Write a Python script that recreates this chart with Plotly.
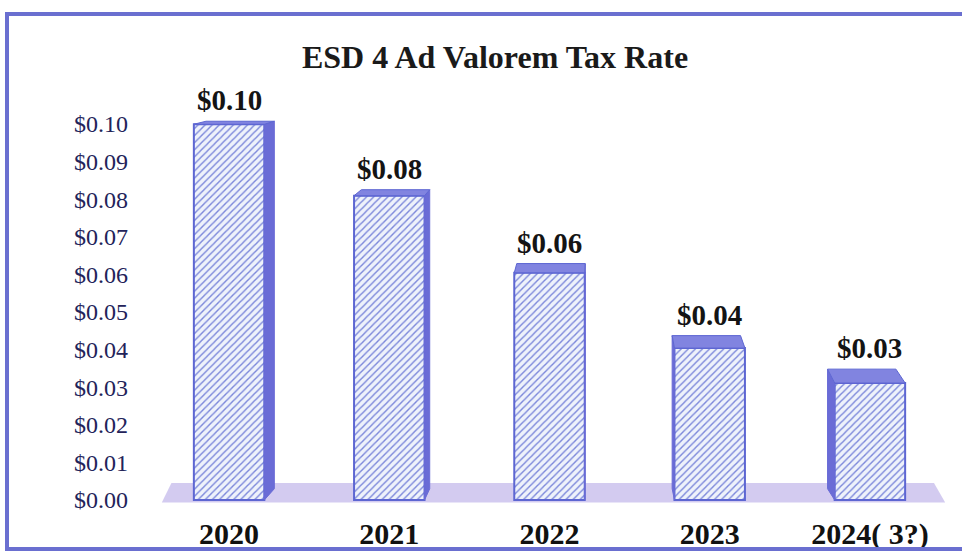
import plotly.graph_objects as go

# ---------------- data ----------------
years = ["2020", "2021", "2022", "2023", "2024( 3?)"]
rates = [0.0999, 0.0809, 0.0604, 0.0404, 0.0311]
y_ticks = [0.00, 0.01, 0.02, 0.03, 0.04, 0.05, 0.06, 0.07, 0.08, 0.09, 0.10]
y_tick_labels = ["$%.2f" % t for t in y_ticks]
title_text = "ESD 4 Ad Valorem Tax Rate"

# ---------------- style ----------------
W, H = 962, 552
ML, MR, MT, MB = 149, 12, 75, 49
Y_MIN, Y_MAX = -0.0008, 0.113
BAR_W = 0.44
VP, K = 2.3, 0.03            # fake perspective: vanishing point & depth factor
BOTTOM_LIFT = 0.0030
FRONT_LINE = "#5d66d2"
SIDE_COL = "#6a6cd6"
CAP_COL = "#8184e0"
SERIF = "Liberation Serif"

def shift(x):
    return (VP - x) * K

def lift(v):
    return 0.0008 + (0.10 - v) * 0.042

fig = go.Figure()

xs = list(range(len(years)))

# floor slab
fig.add_shape(
    type="path",
    path="M -0.42 -0.0007 L 4.47 -0.0007 L 4.40 0.0045 L -0.36 0.0045 Z",
    xref="x", yref="y", fillcolor="rgba(200,190,236,0.8)", line_width=0, layer="below",
)

# front faces
fig.add_trace(go.Bar(
    x=xs, y=rates, width=BAR_W,
    marker=dict(
        color="#eef0fb",
        line=dict(color=FRONT_LINE, width=2),
        pattern=dict(shape="/", fgcolor="#7a86da", bgcolor="#eef2fb",
                     size=5, solidity=0.28, fillmode="replace"),
    ),
    hoverinfo="skip", showlegend=False,
))

# side faces and top caps
for i, v in zip(xs, rates):
    x0, x1 = i - BAR_W / 2, i + BAR_W / 2
    L = lift(v)
    if x1 < VP:
        xe = x1
    elif x0 > VP:
        xe = x0
    else:
        xe = None
    if xe is not None:
        d = shift(xe)
        fig.add_trace(go.Scatter(
            x=[xe, xe, xe + d, xe + d, xe],
            y=[0, v, v + L, BOTTOM_LIFT, 0],
            mode="lines", fill="toself", fillcolor=SIDE_COL,
            line=dict(color=SIDE_COL, width=1),
            hoverinfo="skip", showlegend=False,
        ))
    fig.add_trace(go.Scatter(
        x=[x0, x1, x1 + shift(x1), x0 + shift(x0), x0],
        y=[v, v, v + L, v + L, v],
        mode="lines", fill="toself", fillcolor=CAP_COL,
        line=dict(color=FRONT_LINE, width=1),
        hoverinfo="skip", showlegend=False,
    ))
    fig.add_annotation(
        x=i, y=v + L, xref="x", yref="y", text="$%.2f" % v,
        showarrow=False, yanchor="bottom", yshift=3,
        font=dict(family=SERIF, size=29, color="#141414", weight="bold"),
    )

# frame around the chart (paper coordinates computed from pixels)
pw = W - ML - MR
ph = H - MT - MB
def px_x(p):
    return (p - ML) / pw
def px_y(p):
    return (H - MB - p) / ph

fig.add_shape(
    type="rect", xref="paper", yref="paper",
    x0=px_x(7), x1=px_x(975), y0=px_y(549), y1=px_y(14),
    line=dict(color="#6a6fd0", width=4), fillcolor="rgba(0,0,0,0)", layer="above",
)

fig.update_layout(
    width=W, height=H,
    margin=dict(l=ML, r=MR, t=MT, b=MB, pad=0, autoexpand=False),
    paper_bgcolor="white", plot_bgcolor="white",
    title=dict(
        text=title_text, x=495 / W, xref="container", xanchor="center",
        y=1 - 57 / H, yref="container", yanchor="middle",
        font=dict(family=SERIF, size=32, color="#1a1a1a", weight="bold"),
    ),
    xaxis=dict(
        range=[-0.5, 4.5], tickvals=xs, ticktext=years, automargin=False,
        showgrid=False, zeroline=False, showline=False, ticks="",
        tickfont=dict(family=SERIF, size=30, color="#111111", weight="bold"),
        ticklabelstandoff=10,
    ),
    yaxis=dict(
        range=[Y_MIN, Y_MAX], tickvals=y_ticks, ticktext=y_tick_labels, automargin=False,
        showgrid=False, zeroline=False, showline=False, ticks="",
        tickfont=dict(family=SERIF, size=24, color="#23235a"),
        ticklabelstandoff=20,
    ),
)

fig.write_html(
    "out.html",
    config={"displayModeBar": False},
    post_script="document.body.style.margin='0px';document.body.style.overflow='hidden';",
)
